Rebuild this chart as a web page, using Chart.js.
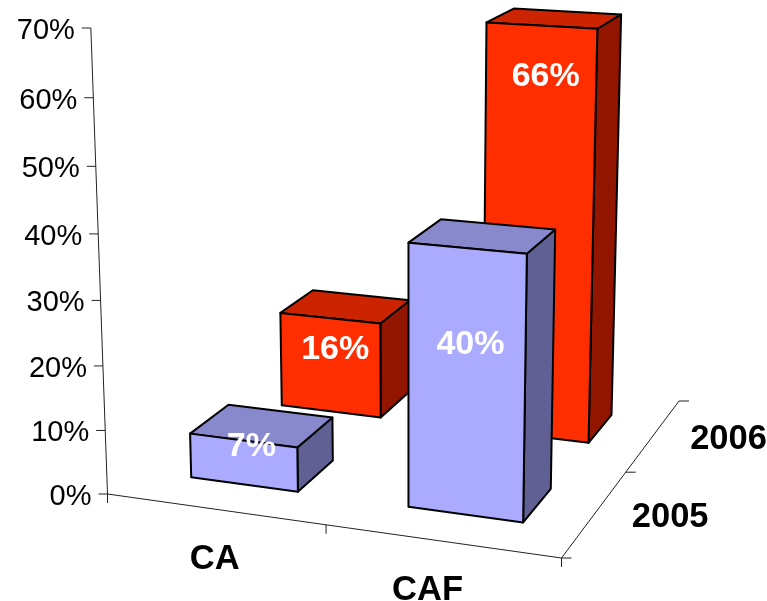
<!DOCTYPE html>
<html>
<head>
<meta charset="utf-8">
<style>
  html, body { margin: 0; padding: 0; background: #fff; }
  #wrap { width: 767px; height: 601px; }
</style>
<script src="https://cdn.jsdelivr.net/npm/chart.js@4"></script>
</head>
<body>
<div id="wrap"><canvas id="myChart"></canvas></div>
<script>
const categories = ["CA", "CAF"];
const years = ["2005", "2006"];
const values2005 = [7, 40];
const values2006 = [16, 66];
const yTicks = [0, 10, 20, 30, 40, 50, 60, 70];

// floor of the 3d box, in canvas pixels
const floor = {
    frontLeft: [107.5, 494],
    frontRight: [561.5, 558],
    backRight: [679, 401],
    backLeft: [290.5, 356.7]
};
const axisTop = [90, 28];       // where the value axis ends
const vanish = [408, 8900];     // verticals converge down here

const barDepth = 0.4;           // share of a depth row

// colours per year: front, top, side
const shades = {
    "2005": ["#AAAAFF", "#8888CC", "#606094"],
    "2006": ["#FF2E00", "#CC2400", "#921500"]
};

// label placement, tweaked by hand per bar (share of the way down the front face)
const labelDrop = { "2005": [0.09, 0.347], "2006": [0.31, 0.115] };
const labelShiftX = { "2005": [8, 4], "2006": [5, 5] };
const catLabelShift = [[0, 50], [-14, 49]];
const yearLabelShift = [75, 4];

// unit square -> floor quad
function makeFloor(q) {
    const [x0, y0] = q.frontLeft, [x1, y1] = q.frontRight, [x2, y2] = q.backRight, [x3, y3] = q.backLeft;
    const dx1 = x1 - x2, dx2 = x3 - x2, sx = x0 - x1 + x2 - x3;
    const dy1 = y1 - y2, dy2 = y3 - y2, sy = y0 - y1 + y2 - y3;
    const den = dx1 * dy2 - dx2 * dy1;
    const g = (sx * dy2 - dx2 * sy) / den;
    const h = (dx1 * sy - sx * dy1) / den;
    const a = x1 - x0 + g * x1, b = x3 - x0 + h * x3;
    const d = y1 - y0 + g * y1, e = y3 - y0 + h * y3;
    return (u, v) => {
        const w = g * u + h * v + 1;
        return { x: (a * u + b * v + x0) / w, y: (d * u + e * v + y0) / w, w: w };
    };
}
const floorAt = makeFloor(floor);
const lift = (axisTop[1] - floor.frontLeft[1]) / (vanish[1] - axisTop[1]);

// u across categories, v along depth, t up the value axis, all 0..1
function project(u, v, t) {
    const f = floorAt(u, v);
    const k = lift * t;
    return [(f.w * f.x + k * vanish[0]) / (f.w + k), (f.w * f.y + k * vanish[1]) / (f.w + k)];
}

function poly(ctx, pts, fill) {
    ctx.beginPath();
    pts.forEach((p, i) => i ? ctx.lineTo(p[0], p[1]) : ctx.moveTo(p[0], p[1]));
    ctx.closePath();
    if (fill) {
        ctx.fillStyle = fill;
        ctx.fill();
    }
    ctx.stroke();
}

function line(ctx, a, b) {
    ctx.beginPath();
    ctx.moveTo(a[0], a[1]);
    ctx.lineTo(b[0], b[1]);
    ctx.stroke();
}

const box3d = {
    id: "box3d",
    afterDatasetsDraw(chart) {
        const ctx = chart.ctx;
        const area = chart.chartArea;
        const xs = chart.scales.x, ys = chart.scales.y, zs = chart.scales.z;
        const toU = px => (px - area.left) / area.width;
        const toV = px => (px - area.left) / area.width;
        const toT = px => (area.bottom - px) / area.height;

        ctx.save();

        // axes
        ctx.strokeStyle = "#222";
        ctx.lineWidth = 1;
        line(ctx, project(0, 0, 0), project(0, 0, 1));
        line(ctx, project(0, 0, 0), project(1, 0, 0));
        line(ctx, project(1, 0, 0), project(1, 1, 0));

        ctx.font = "29px 'Liberation Sans'";
        ctx.fillStyle = "#000";
        ctx.textAlign = "right";
        ctx.textBaseline = "middle";
        ys.ticks.forEach(tick => {
            const p = project(0, 0, toT(ys.getPixelForValue(tick.value)));
            line(ctx, [p[0] - 9, p[1]], p);
            ctx.fillText(tick.label, p[0] - 16, p[1] + 3);
        });

        // small marks along the two floor edges
        [0, 0.5, 1].forEach(u => {
            const p = project(u, 0, 0);
            line(ctx, p, [p[0], p[1] + 9]);
        });
        [0, 0.5, 1].forEach(v => {
            const p = project(1, v, 0);
            line(ctx, p, [p[0] + 10, p[1]]);
        });

        ctx.font = "bold 34.5px 'Liberation Sans'";
        ctx.textAlign = "center";
        categories.forEach((c, i) => {
            const p = project(toU(xs.getPixelForValue(i)), 0, 0);
            ctx.fillText(c, p[0] + catLabelShift[i][0], p[1] + catLabelShift[i][1]);
        });
        years.forEach((y, i) => {
            const p = project(1, toV(zs.getPixelForValue(i)), 0);
            ctx.fillText(y, p[0] + yearLabelShift[0], p[1] + yearLabelShift[1]);
        });

        // back row first so the front one covers it
        for (let row = years.length - 1; row >= 0; row--) {
            const meta = chart.getDatasetMeta(row);
            const zc = toV(zs.getPixelForValue(row));
            const half = barDepth / years.length / 2;
            const v0 = zc - half, v1 = zc + half;
            const [front, top, side] = shades[years[row]];
            meta.data.forEach((bar, i) => {
                const u0 = toU(bar.x - bar.width / 2), u1 = toU(bar.x + bar.width / 2);
                const t = toT(bar.y);

                ctx.strokeStyle = "#000";
                ctx.lineWidth = 2;
                ctx.lineJoin = "round";
                poly(ctx, [project(u1, v0, 0), project(u1, v1, 0), project(u1, v1, t), project(u1, v0, t)], side);
                poly(ctx, [project(u0, v0, t), project(u1, v0, t), project(u1, v1, t), project(u0, v1, t)], top);
                poly(ctx, [project(u0, v0, 0), project(u1, v0, 0), project(u1, v0, t), project(u0, v0, t)], front);

                const uc = toU(bar.x);
                const p = project(uc, v0, t * (1 - labelDrop[years[row]][i]));
                ctx.fillStyle = "#fff";
                ctx.font = "bold 34px 'Liberation Sans'";
                ctx.textAlign = "center";
                ctx.textBaseline = "middle";
                ctx.fillText(chart.data.datasets[row].data[i] + "%", p[0] + labelShiftX[years[row]][i], p[1] + 2);
            });
        }
        ctx.restore();
    }
};

new Chart(document.getElementById("myChart"), {
    type: "bar",
    data: {
        labels: categories,
        datasets: [
            { label: years[0], data: values2005, backgroundColor: "transparent" },
            { label: years[1], data: values2006, backgroundColor: "transparent" }
        ]
    },
    options: {
        responsive: true,
        maintainAspectRatio: false,
        animation: false,
        layout: { padding: 0 },
        datasets: { bar: { grouped: false, categoryPercentage: 1, barPercentage: 0.5 } },
        plugins: { legend: { display: false }, tooltip: { enabled: false } },
        scales: {
            x: { display: false },
            z: { axis: "x", type: "category", labels: years, display: false },
            y: {
                display: false,
                min: yTicks[0],
                max: yTicks[yTicks.length - 1],
                ticks: { stepSize: 10, callback: v => v + "%" }
            }
        }
    },
    plugins: [box3d]
});
</script>
</body>
</html>
